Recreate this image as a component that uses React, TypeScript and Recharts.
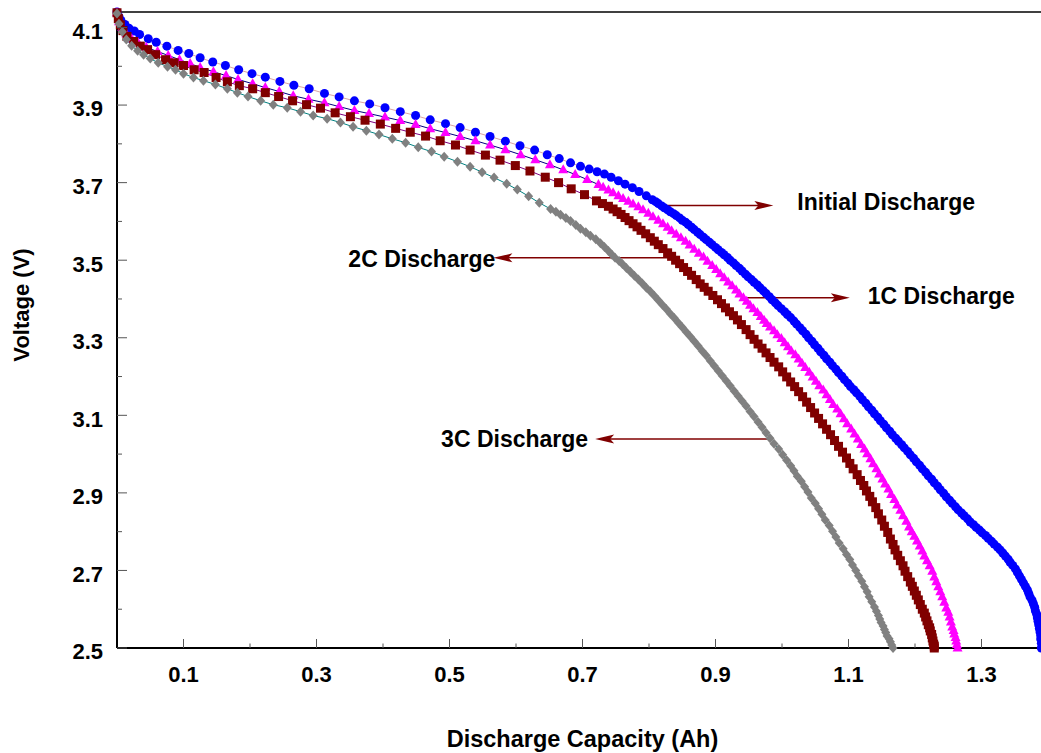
import React from 'react';
import { LineChart, Line, XAxis, YAxis, ReferenceLine } from 'recharts';

// [capacity (Ah), voltage (V)]
const initialDischarge: [number, number][] = [
  [0.000, 4.140], [0.003, 4.128], [0.006, 4.118], [0.012, 4.108], [0.018, 4.098], [0.026, 4.091],
  [0.034, 4.082], [0.047, 4.071], [0.059, 4.062], [0.075, 4.052], [0.092, 4.041], [0.108, 4.033],
  [0.125, 4.022], [0.144, 4.011], [0.163, 4.002], [0.183, 3.991], [0.203, 3.981], [0.223, 3.972],
  [0.245, 3.961], [0.266, 3.951], [0.289, 3.942], [0.312, 3.930], [0.334, 3.921], [0.357, 3.911],
  [0.380, 3.903], [0.403, 3.893], [0.426, 3.883], [0.449, 3.873], [0.471, 3.862], [0.494, 3.852],
  [0.516, 3.842], [0.539, 3.830], [0.561, 3.819], [0.584, 3.807], [0.606, 3.795], [0.628, 3.784],
  [0.647, 3.772], [0.665, 3.762], [0.682, 3.751], [0.697, 3.742], [0.710, 3.735], [0.722, 3.728],
  [0.733, 3.722], [0.743, 3.714], [0.754, 3.705], [0.764, 3.696], [0.775, 3.687], [0.785, 3.677],
  [0.796, 3.666], [0.805, 3.656], [0.810, 3.651], [0.814, 3.646], [0.819, 3.640], [0.823, 3.635],
  [0.828, 3.630], [0.832, 3.625], [0.837, 3.620], [0.841, 3.615], [0.846, 3.609], [0.850, 3.603],
  [0.855, 3.598], [0.859, 3.592], [0.864, 3.585], [0.868, 3.579], [0.873, 3.572], [0.877, 3.566],
  [0.882, 3.559], [0.886, 3.553], [0.891, 3.546], [0.895, 3.540], [0.900, 3.533], [0.904, 3.527],
  [0.909, 3.520], [0.913, 3.514], [0.918, 3.507], [0.922, 3.500], [0.927, 3.493], [0.931, 3.486],
  [0.936, 3.479], [0.940, 3.472], [0.945, 3.464], [0.949, 3.457], [0.954, 3.450], [0.958, 3.443],
  [0.963, 3.436], [0.967, 3.429], [0.972, 3.421], [0.976, 3.414], [0.981, 3.406], [0.985, 3.398],
  [0.990, 3.390], [0.994, 3.383], [0.999, 3.375], [1.004, 3.367], [1.008, 3.360], [1.013, 3.352],
  [1.018, 3.343], [1.022, 3.335], [1.027, 3.326], [1.031, 3.318], [1.036, 3.309], [1.040, 3.300],
  [1.045, 3.291], [1.049, 3.282], [1.054, 3.273], [1.058, 3.264], [1.063, 3.255], [1.067, 3.246],
  [1.072, 3.237], [1.076, 3.228], [1.081, 3.219], [1.085, 3.210], [1.090, 3.201], [1.094, 3.192],
  [1.099, 3.183], [1.103, 3.174], [1.108, 3.166], [1.112, 3.158], [1.117, 3.149], [1.121, 3.140],
  [1.126, 3.131], [1.130, 3.122], [1.135, 3.113], [1.139, 3.104], [1.144, 3.095], [1.148, 3.086],
  [1.153, 3.077], [1.157, 3.068], [1.162, 3.059], [1.166, 3.050], [1.171, 3.041], [1.175, 3.033],
  [1.180, 3.024], [1.184, 3.016], [1.189, 3.007], [1.193, 2.998], [1.198, 2.989], [1.202, 2.980],
  [1.207, 2.971], [1.211, 2.962], [1.216, 2.953], [1.220, 2.944], [1.225, 2.935], [1.229, 2.926],
  [1.234, 2.917], [1.238, 2.908], [1.243, 2.899], [1.247, 2.890], [1.252, 2.881], [1.256, 2.873],
  [1.261, 2.864], [1.265, 2.856], [1.270, 2.848], [1.274, 2.841], [1.279, 2.833], [1.283, 2.825],
  [1.288, 2.818], [1.292, 2.811], [1.297, 2.804], [1.301, 2.797], [1.306, 2.790], [1.310, 2.783],
  [1.315, 2.775], [1.319, 2.768], [1.324, 2.760], [1.328, 2.753], [1.332, 2.745], [1.336, 2.737],
  [1.340, 2.729], [1.343, 2.721], [1.347, 2.713], [1.351, 2.704], [1.354, 2.695], [1.357, 2.686],
  [1.360, 2.677], [1.363, 2.668], [1.366, 2.659], [1.369, 2.650], [1.371, 2.641], [1.373, 2.632],
  [1.376, 2.623], [1.378, 2.614], [1.380, 2.605], [1.381, 2.596], [1.383, 2.587], [1.384, 2.578],
  [1.385, 2.569], [1.386, 2.560], [1.387, 2.550], [1.388, 2.541], [1.389, 2.532], [1.389, 2.523],
  [1.390, 2.512], [1.390, 2.500],
];

const discharge1C: [number, number][] = [
  [0.000, 4.138], [0.003, 4.115], [0.008, 4.100], [0.014, 4.084], [0.022, 4.071], [0.032, 4.060],
  [0.044, 4.049], [0.061, 4.038], [0.077, 4.028], [0.094, 4.017], [0.110, 4.007], [0.125, 3.997],
  [0.145, 3.986], [0.164, 3.976], [0.182, 3.966], [0.204, 3.955], [0.223, 3.945], [0.244, 3.935],
  [0.265, 3.924], [0.288, 3.915], [0.312, 3.906], [0.334, 3.896], [0.357, 3.886], [0.379, 3.878],
  [0.403, 3.869], [0.426, 3.860], [0.449, 3.850], [0.471, 3.839], [0.494, 3.829], [0.516, 3.819],
  [0.539, 3.808], [0.561, 3.797], [0.584, 3.785], [0.607, 3.772], [0.629, 3.759], [0.651, 3.746],
  [0.671, 3.733], [0.689, 3.721], [0.707, 3.708], [0.724, 3.695], [0.731, 3.688], [0.739, 3.681],
  [0.746, 3.674], [0.754, 3.666], [0.761, 3.659], [0.769, 3.652], [0.776, 3.645], [0.784, 3.638],
  [0.791, 3.630], [0.799, 3.621], [0.806, 3.612], [0.814, 3.603], [0.821, 3.594], [0.828, 3.585],
  [0.834, 3.576], [0.841, 3.567], [0.848, 3.558], [0.855, 3.549], [0.861, 3.539], [0.868, 3.528],
  [0.875, 3.518], [0.882, 3.508], [0.888, 3.497], [0.895, 3.486], [0.901, 3.476], [0.907, 3.465],
  [0.913, 3.455], [0.919, 3.444], [0.925, 3.434], [0.931, 3.423], [0.936, 3.413], [0.942, 3.403],
  [0.947, 3.394], [0.952, 3.384], [0.957, 3.375], [0.963, 3.365], [0.968, 3.355], [0.973, 3.345],
  [0.977, 3.337], [0.982, 3.328], [0.988, 3.318], [0.993, 3.308], [0.999, 3.298], [1.004, 3.287],
  [1.009, 3.277], [1.014, 3.266], [1.020, 3.256], [1.025, 3.245], [1.030, 3.234], [1.035, 3.223],
  [1.041, 3.211], [1.046, 3.199], [1.051, 3.188], [1.056, 3.176], [1.062, 3.165], [1.067, 3.153],
  [1.072, 3.141], [1.077, 3.128], [1.083, 3.116], [1.088, 3.104], [1.093, 3.091], [1.098, 3.078],
  [1.104, 3.065], [1.109, 3.052], [1.114, 3.039], [1.119, 3.025], [1.124, 3.013], [1.128, 3.001],
  [1.133, 2.988], [1.137, 2.975], [1.142, 2.962], [1.146, 2.949], [1.151, 2.936], [1.155, 2.923],
  [1.160, 2.910], [1.164, 2.896], [1.169, 2.883], [1.173, 2.869], [1.178, 2.855], [1.182, 2.841],
  [1.187, 2.827], [1.191, 2.812], [1.195, 2.800], [1.199, 2.788], [1.203, 2.776], [1.207, 2.763],
  [1.211, 2.750], [1.214, 2.737], [1.218, 2.725], [1.222, 2.712], [1.226, 2.698], [1.229, 2.683],
  [1.232, 2.671], [1.235, 2.658], [1.238, 2.645], [1.241, 2.632], [1.244, 2.618], [1.247, 2.603],
  [1.250, 2.592], [1.252, 2.580], [1.254, 2.567], [1.256, 2.554], [1.258, 2.545], [1.259, 2.536],
  [1.261, 2.527], [1.262, 2.518], [1.263, 2.509], [1.264, 2.500],
];

const discharge2C: [number, number][] = [
  [0.000, 4.138], [0.002, 4.123], [0.005, 4.107], [0.009, 4.092], [0.015, 4.077], [0.025, 4.064],
  [0.035, 4.052], [0.046, 4.043], [0.058, 4.030], [0.073, 4.017], [0.086, 4.009], [0.100, 4.002],
  [0.116, 3.991], [0.131, 3.984], [0.149, 3.971], [0.166, 3.960], [0.184, 3.950], [0.204, 3.942],
  [0.223, 3.932], [0.243, 3.922], [0.264, 3.911], [0.285, 3.901], [0.306, 3.892], [0.328, 3.880],
  [0.351, 3.870], [0.373, 3.861], [0.396, 3.851], [0.419, 3.840], [0.441, 3.830], [0.464, 3.820],
  [0.486, 3.808], [0.509, 3.797], [0.531, 3.784], [0.554, 3.771], [0.576, 3.758], [0.599, 3.744],
  [0.621, 3.730], [0.644, 3.714], [0.664, 3.700], [0.683, 3.684], [0.703, 3.669], [0.721, 3.653],
  [0.730, 3.646], [0.739, 3.639], [0.746, 3.632], [0.752, 3.625], [0.758, 3.618], [0.764, 3.610],
  [0.770, 3.602], [0.776, 3.594], [0.782, 3.586], [0.788, 3.577], [0.795, 3.568], [0.802, 3.558],
  [0.808, 3.549], [0.814, 3.540], [0.821, 3.530], [0.828, 3.519], [0.834, 3.510], [0.840, 3.500],
  [0.846, 3.491], [0.852, 3.481], [0.858, 3.471], [0.864, 3.461], [0.871, 3.450], [0.877, 3.439],
  [0.883, 3.430], [0.889, 3.420], [0.896, 3.409], [0.903, 3.398], [0.909, 3.388], [0.915, 3.377],
  [0.921, 3.367], [0.927, 3.357], [0.933, 3.346], [0.939, 3.334], [0.946, 3.321], [0.952, 3.308],
  [0.958, 3.296], [0.964, 3.284], [0.970, 3.273], [0.976, 3.261], [0.982, 3.249], [0.988, 3.237],
  [0.995, 3.225], [1.001, 3.212], [1.007, 3.199], [1.013, 3.186], [1.019, 3.174], [1.025, 3.161],
  [1.031, 3.148], [1.037, 3.134], [1.043, 3.120], [1.049, 3.106], [1.055, 3.092], [1.061, 3.078],
  [1.067, 3.064], [1.073, 3.050], [1.079, 3.035], [1.085, 3.020], [1.091, 3.005], [1.097, 2.990],
  [1.102, 2.976], [1.107, 2.962], [1.113, 2.947], [1.118, 2.932], [1.123, 2.919], [1.127, 2.905],
  [1.132, 2.891], [1.136, 2.877], [1.141, 2.862], [1.145, 2.846], [1.150, 2.830], [1.154, 2.814],
  [1.159, 2.798], [1.163, 2.781], [1.167, 2.767], [1.170, 2.753], [1.174, 2.739], [1.178, 2.725],
  [1.182, 2.712], [1.185, 2.698], [1.189, 2.684], [1.193, 2.670], [1.196, 2.659], [1.199, 2.647],
  [1.202, 2.636], [1.205, 2.624], [1.208, 2.612], [1.211, 2.600], [1.214, 2.590], [1.216, 2.580],
  [1.218, 2.570], [1.220, 2.560], [1.222, 2.552], [1.223, 2.544], [1.225, 2.535], [1.226, 2.526],
  [1.227, 2.518], [1.228, 2.510], [1.229, 2.505], [1.229, 2.500],
];

const discharge3C: [number, number][] = [
  [0.000, 4.136], [0.003, 4.110], [0.008, 4.089], [0.014, 4.069], [0.022, 4.053], [0.031, 4.040],
  [0.040, 4.030], [0.050, 4.020], [0.062, 4.009], [0.076, 3.999], [0.088, 3.991], [0.100, 3.981],
  [0.115, 3.971], [0.130, 3.963], [0.148, 3.953], [0.166, 3.942], [0.181, 3.932], [0.197, 3.922],
  [0.216, 3.911], [0.235, 3.901], [0.256, 3.893], [0.276, 3.883], [0.295, 3.873], [0.316, 3.865],
  [0.336, 3.855], [0.355, 3.844], [0.375, 3.834], [0.394, 3.824], [0.414, 3.813], [0.434, 3.803],
  [0.453, 3.791], [0.473, 3.780], [0.492, 3.767], [0.512, 3.754], [0.531, 3.741], [0.549, 3.727],
  [0.567, 3.713], [0.586, 3.697], [0.602, 3.682], [0.619, 3.665], [0.635, 3.648], [0.652, 3.632],
  [0.660, 3.625], [0.667, 3.617], [0.675, 3.609], [0.682, 3.601], [0.690, 3.591], [0.697, 3.581],
  [0.705, 3.572], [0.712, 3.563], [0.720, 3.554], [0.727, 3.544], [0.733, 3.534], [0.739, 3.524],
  [0.744, 3.515], [0.749, 3.506], [0.755, 3.498], [0.760, 3.490], [0.766, 3.480], [0.772, 3.470],
  [0.778, 3.460], [0.784, 3.450], [0.790, 3.440], [0.796, 3.429], [0.802, 3.419], [0.808, 3.408],
  [0.814, 3.397], [0.820, 3.385], [0.826, 3.374], [0.832, 3.362], [0.838, 3.351], [0.844, 3.339],
  [0.850, 3.327], [0.856, 3.315], [0.862, 3.303], [0.868, 3.291], [0.874, 3.279], [0.880, 3.266],
  [0.886, 3.254], [0.892, 3.241], [0.898, 3.228], [0.904, 3.215], [0.910, 3.202], [0.916, 3.189],
  [0.922, 3.176], [0.928, 3.163], [0.934, 3.150], [0.940, 3.137], [0.946, 3.124], [0.952, 3.110],
  [0.958, 3.097], [0.964, 3.083], [0.970, 3.069], [0.976, 3.055], [0.982, 3.041], [0.988, 3.027],
  [0.995, 3.013], [1.001, 2.998], [1.007, 2.984], [1.013, 2.970], [1.018, 2.957], [1.023, 2.943],
  [1.029, 2.930], [1.034, 2.916], [1.039, 2.902], [1.044, 2.887], [1.050, 2.873], [1.055, 2.859],
  [1.060, 2.845], [1.065, 2.830], [1.071, 2.816], [1.076, 2.801], [1.081, 2.786], [1.086, 2.771],
  [1.092, 2.756], [1.097, 2.741], [1.102, 2.728], [1.106, 2.714], [1.111, 2.700], [1.115, 2.686],
  [1.120, 2.672], [1.124, 2.658], [1.128, 2.645], [1.131, 2.632], [1.135, 2.619], [1.139, 2.606],
  [1.142, 2.595], [1.145, 2.584], [1.147, 2.575], [1.149, 2.566], [1.152, 2.557], [1.154, 2.548],
  [1.156, 2.540], [1.158, 2.531], [1.161, 2.524], [1.163, 2.516], [1.165, 2.508], [1.167, 2.500],
];

const capacityTicks = [0.1, 0.2, 0.3, 0.4, 0.5, 0.6, 0.7, 0.8, 0.9, 1.0, 1.1, 1.2, 1.3];
const capacityLabels = [0.1, 0.3, 0.5, 0.7, 0.9, 1.1, 1.3];
const voltageTicks = [2.5, 2.6, 2.7, 2.8, 2.9, 3.0, 3.1, 3.2, 3.3, 3.4, 3.5, 3.6, 3.7, 3.8, 3.9, 4.0, 4.1];
const voltageLabels = [2.5, 2.7, 2.9, 3.1, 3.3, 3.5, 3.7, 3.9, 4.1];

// arrow from a curve (tail) to the head, text placed beyond the head
const annotations = [
  { text: 'Initial Discharge', tail: [0.813, 3.641], headX: 0.987, gap: 24, dy: -4 },
  { text: '2C Discharge', tail: [0.829, 3.506], headX: 0.566, gap: -2, dy: 1 },
  { text: '1C Discharge', tail: [0.938, 3.403], headX: 1.102, gap: 18, dy: -2 },
  { text: '3C Discharge', tail: [0.979, 3.039], headX: 0.719, gap: 7, dy: 0 },
];

const FONT = '"Liberation Sans", Arial, Helvetica, sans-serif';
const ARROW = '#800000';
const X_MARGIN = 19;
const Y_MARGIN = 14;

const toPoints = (rows: [number, number][]) => rows.map(([c, v]) => ({ c, v }));

const CapacityTick = (props: any) => {
  const { x, y, payload } = props;
  const axisY = y - X_MARGIN;
  const major = capacityLabels.includes(payload.value);
  return (
    <g>
      <line x1={x} y1={axisY} x2={x} y2={axisY - (major ? 9 : 4.5)} stroke="#555" strokeWidth={1} />
      {major && (
        <text x={x} y={y - 1} dy="0.71em" textAnchor="middle" fontFamily={FONT} fontWeight="bold" fontSize={22} fill="#000">
          {payload.value.toFixed(1)}
        </text>
      )}
    </g>
  );
};

const VoltageTick = (props: any) => {
  const { x, y, payload } = props;
  const axisX = x + Y_MARGIN;
  const major = voltageLabels.includes(payload.value);
  return (
    <g>
      <line x1={axisX} y1={y} x2={axisX + (major ? 10 : 5)} y2={y} stroke="#555" strokeWidth={1} />
      {major && (
        <text x={x} y={y + 3.5} dy="0.355em" textAnchor="end" fontFamily={FONT} fontWeight="bold" fontSize={22} fill="#000">
          {payload.value.toFixed(1)}
        </text>
      )}
    </g>
  );
};

const circleDot = (p: any) => <circle key={`c${p.index}`} cx={p.cx} cy={p.cy} r={4.5} fill="#0000FF" />;
const triangleDot = (p: any) => (
  <polygon
    key={`t${p.index}`}
    points={`${p.cx},${p.cy - 5.5} ${p.cx - 5},${p.cy + 3.5} ${p.cx + 5},${p.cy + 3.5}`}
    fill="#FF00FF"
  />
);
const squareDot = (p: any) => <rect key={`s${p.index}`} x={p.cx - 4.5} y={p.cy - 4.5} width={9} height={9} fill="#800000" />;
const diamondDot = (p: any) => (
  <polygon
    key={`d${p.index}`}
    points={`${p.cx},${p.cy - 5} ${p.cx + 4.5},${p.cy} ${p.cx},${p.cy + 5} ${p.cx - 4.5},${p.cy}`}
    fill="#808080"
  />
);

const arrowShape = (text: string, gap: number, dy: number) => (props: any) => {
  const { x1, y1, x2, y2 } = props;
  const dir = x2 > x1 ? 1 : -1;
  const back = x2 - dir * 19;
  return (
    <g>
      <line x1={x1} y1={y1} x2={x2 - dir * 10} y2={y2} stroke={ARROW} strokeWidth={1.5} />
      <polygon points={`${x2},${y2} ${back},${y2 - 4.5} ${back + dir * 4},${y2} ${back},${y2 + 4.5}`} fill={ARROW} />
      <text
        x={x2 + dir * gap}
        y={y2 + dy}
        textAnchor={dir > 0 ? 'start' : 'end'}
        dominantBaseline="central"
        fontFamily={FONT}
        fontWeight="bold"
        fontSize={23}
        fill="#000"
      >
        {text}
      </text>
    </g>
  );
};

export default function App() {
  return (
    <div style={{ position: 'absolute', left: 0, top: 0, width: 1041, height: 753, overflow: 'hidden', background: '#fff' }}>
      <LineChart width={1060} height={753} margin={{ top: 12, right: 12, bottom: 0, left: 0 }}>
        <XAxis
          type="number"
          dataKey="c"
          domain={[0, 1.4]}
          ticks={capacityTicks}
          interval={0}
          tickSize={0}
          tickMargin={X_MARGIN}
          tickLine={false}
          tick={(p: any) => <CapacityTick {...p} />}
          axisLine={{ stroke: '#000', strokeWidth: 2 }}
          height={105}
          label={{
            value: 'Discharge Capacity (Ah)',
            position: 'insideBottom',
            offset: 6,
            style: { fontFamily: FONT, fontWeight: 'bold', fontSize: 23.5, fill: '#000' },
          }}
        />
        <YAxis
          type="number"
          domain={[2.5, 4.14]}
          ticks={voltageTicks}
          interval={0}
          tickSize={0}
          tickMargin={Y_MARGIN}
          tickLine={false}
          tick={(p: any) => <VoltageTick {...p} />}
          axisLine={{ stroke: '#000', strokeWidth: 2 }}
          width={117}
          label={{
            content: () => (
              <text
                x={28.5}
                y={305}
                transform="rotate(-90, 28.5, 305)"
                textAnchor="middle"
                fontFamily={FONT}
                fontWeight="bold"
                fontSize={22}
                fill="#000"
              >
                Voltage (V)
              </text>
            ),
          }}
        />
        <ReferenceLine y={4.14} stroke="#000" strokeWidth={1.5} />
        <Line data={toPoints(initialDischarge)} dataKey="v" stroke="#D9A3A3" strokeWidth={1} dot={circleDot} isAnimationActive={false} />
        <Line data={toPoints(discharge1C)} dataKey="v" stroke="#000080" strokeWidth={1} dot={triangleDot} isAnimationActive={false} />
        <Line data={toPoints(discharge2C)} dataKey="v" stroke="#800080" strokeWidth={1} dot={squareDot} isAnimationActive={false} />
        <Line data={toPoints(discharge3C)} dataKey="v" stroke="#008080" strokeWidth={1} dot={diamondDot} isAnimationActive={false} />
        {annotations.map((a) => (
          <ReferenceLine
            key={a.text}
            segment={[{ x: a.tail[0], y: a.tail[1] }, { x: a.headX, y: a.tail[1] }]}
            shape={arrowShape(a.text, a.gap, a.dy)}
          />
        ))}
      </LineChart>
    </div>
  );
}
